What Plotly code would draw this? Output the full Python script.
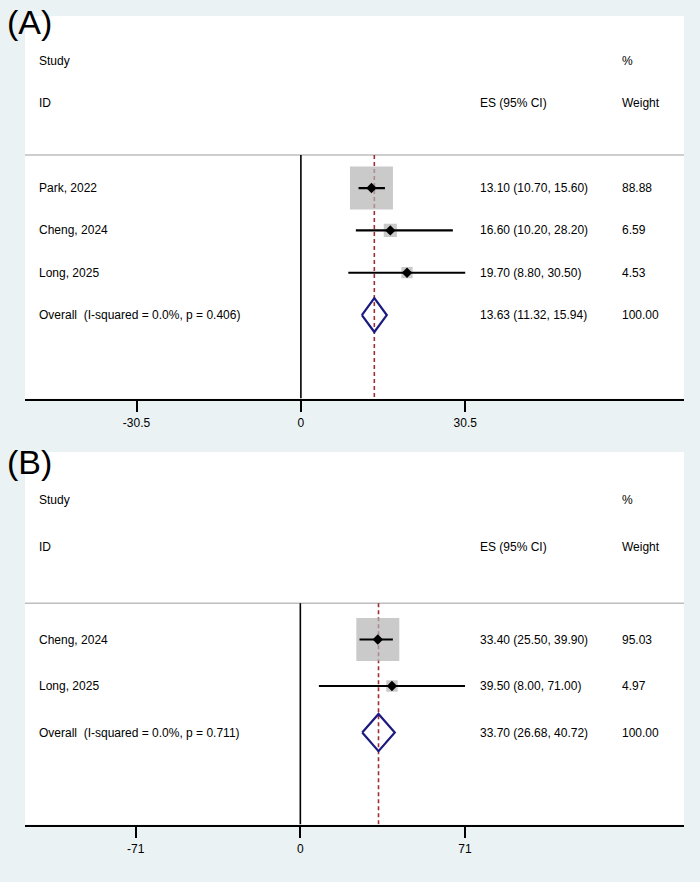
import math
import plotly.graph_objects as go

# ---------------- data ----------------
A_studies = ["Park, 2022", "Cheng, 2024", "Long, 2025"]
A_es = [13.10, 16.60, 19.70]
A_lo = [10.70, 10.20, 8.80]
A_hi = [15.60, 28.20, 30.50]
A_weight = [88.88, 6.59, 4.53]
A_overall = [13.63, 11.32, 15.94]
A_overall_label = "Overall\u00a0 (I-squared = 0.0%, p = 0.406)"
A_ticks = [-30.5, 0, 30.5]
A_ticktext = ["-30.5", "0", "30.5"]

B_studies = ["Cheng, 2024", "Long, 2025"]
B_es = [33.40, 39.50]
B_lo = [25.50, 8.00]
B_hi = [39.90, 71.00]
B_weight = [95.03, 4.97]
B_overall = [33.70, 26.68, 40.72]
B_overall_label = "Overall\u00a0 (I-squared = 0.0%, p = 0.711)"
B_ticks = [-71, 0, 71]
B_ticktext = ["-71", "0", "71"]

# ---------------- style ----------------
W, H = 700, 882
BG = "#EAF2F3"
FONT = "Liberation Sans, Arial, Helvetica, sans-serif"
BOX = "#B4B4B4"
NAVY = "#1a1a80"
RED = "#A02C34"
SEP = "#BEBEBE"

PANEL_X = (25 / W, 684 / W)
panels = [
    dict(name="A", studies=A_studies, es=A_es, lo=A_lo, hi=A_hi, w=A_weight,
         ov=A_overall, ovlab=A_overall_label, ticks=A_ticks, ticktext=A_ticktext,
         xrange=[-51.2, 71.1], yrange=[7.97, -1.063],
         ydom=[1 - 398.5 / H, 1 - 16 / H], label_y=22),
    dict(name="B", studies=B_studies, es=B_es, lo=B_lo, hi=B_hi, w=B_weight,
         ov=B_overall, ovlab=B_overall_label, ticks=B_ticks, ticktext=B_ticktext,
         xrange=[-118.7, 165.4], yrange=[6.978, -1.032],
         ydom=[1 - 824.5 / H, 1 - 452 / H], label_y=462),
]

SEP_K = 2.22
COL_STUDY = 37 / W
COL_ES = 478 / W
COL_W = 620 / W

fig = go.Figure()
annotations = []
layout_axes = {}

for i, p in enumerate(panels):
    sfx = "" if i == 0 else str(i + 1)
    xa, ya = "x" + sfx, "y" + sfx
    n = len(p["studies"])
    rows = [3 + j for j in range(n)]
    ov_row = 3 + n
    ybot = p["yrange"][0]
    est, olo, ohi = p["ov"]
    maxw = max(p["w"])

    # separator line under the header
    fig.add_trace(go.Scatter(x=[p["xrange"][0], p["xrange"][1]], y=[SEP_K, SEP_K],
                             mode="lines", line=dict(color=SEP, width=1.6),
                             xaxis=xa, yaxis=ya, hoverinfo="skip", cliponaxis=False))
    # null line
    fig.add_trace(go.Scatter(x=[0, 0], y=[SEP_K, ybot], mode="lines",
                             line=dict(color="black", width=1.6),
                             xaxis=xa, yaxis=ya, hoverinfo="skip"))
    # overall effect line
    fig.add_trace(go.Scatter(x=[est, est], y=[SEP_K, ybot], mode="lines",
                             line=dict(color=RED, width=1.6, dash="4px,3px"),
                             xaxis=xa, yaxis=ya, hoverinfo="skip"))
    # weight boxes
    sizes = [2 + 41 * math.sqrt(w / maxw) for w in p["w"]]
    fig.add_trace(go.Scatter(x=p["es"], y=rows, mode="markers",
                             marker=dict(symbol="square", size=sizes, color=BOX,
                                         line=dict(width=0)),
                             xaxis=xa, yaxis=ya, hoverinfo="skip"))
    # CI lines
    cx, cy = [], []
    for lo, hi, r in zip(p["lo"], p["hi"], rows):
        cx += [lo, hi, None]
        cy += [r, r, None]
    fig.add_trace(go.Scatter(x=cx, y=cy, mode="lines",
                             line=dict(color="black", width=2.2),
                             xaxis=xa, yaxis=ya, hoverinfo="skip"))
    # point estimates
    fig.add_trace(go.Scatter(x=p["es"], y=rows, mode="markers",
                             marker=dict(symbol="diamond", size=8, color="black",
                                         line=dict(width=0)),
                             xaxis=xa, yaxis=ya, hoverinfo="skip"))
    # overall diamond
    hh = 0.4
    fig.add_trace(go.Scatter(x=[olo, est, ohi, est, olo],
                             y=[ov_row, ov_row - hh, ov_row, ov_row + hh, ov_row],
                             mode="lines", line=dict(color=NAVY, width=2.2),
                             xaxis=xa, yaxis=ya, hoverinfo="skip"))

    # text columns
    def txt(x, y, s):
        annotations.append(dict(x=x, y=y, xref="paper", yref=ya, text=s,
                                showarrow=False, xanchor="left", yanchor="middle",
                                font=dict(family=FONT, size=12, color="black")))
    txt(COL_STUDY, 0, "Study")
    txt(COL_W, 0, "%")
    txt(COL_STUDY, 1, "ID")
    txt(COL_ES, 1, "ES (95% CI)")
    txt(COL_W, 1, "Weight")
    for s, e, lo, hi, w, r in zip(p["studies"], p["es"], p["lo"], p["hi"], p["w"], rows):
        txt(COL_STUDY, r, s)
        txt(COL_ES, r, f"{e:.2f} ({lo:.2f}, {hi:.2f})")
        txt(COL_W, r, f"{w:.2f}")
    txt(COL_STUDY, ov_row, p["ovlab"])
    txt(COL_ES, ov_row, f"{est:.2f} ({olo:.2f}, {ohi:.2f})")
    txt(COL_W, ov_row, f"{sum(p['w']):.2f}")

    # panel label
    annotations.append(dict(x=5 / W, y=1 - p["label_y"] / H, xref="paper", yref="paper",
                            text=f"({p['name']})", showarrow=False,
                            xanchor="left", yanchor="middle",
                            font=dict(family=FONT, size=34, color="black")))

    layout_axes["xaxis" + sfx] = dict(
        domain=list(PANEL_X), range=p["xrange"], anchor=ya,
        tickmode="array", tickvals=p["ticks"], ticktext=p["ticktext"],
        ticks="outside", ticklen=12, tickwidth=1.6, tickcolor="black",
        showline=True, linecolor="black", linewidth=1.6,
        showgrid=False, zeroline=False,
        tickfont=dict(family=FONT, size=12, color="black"),
    )
    layout_axes["yaxis" + sfx] = dict(
        domain=p["ydom"], range=p["yrange"], anchor=xa, visible=False,
        showgrid=False, zeroline=False,
    )

fig.update_layout(
    width=W, height=H,
    margin=dict(l=0, r=0, t=0, b=0),
    paper_bgcolor=BG, plot_bgcolor="white",
    showlegend=False,
    annotations=annotations,
    font=dict(family=FONT, size=12, color="black"),
    **layout_axes,
)

fig.write_html("out.html")
